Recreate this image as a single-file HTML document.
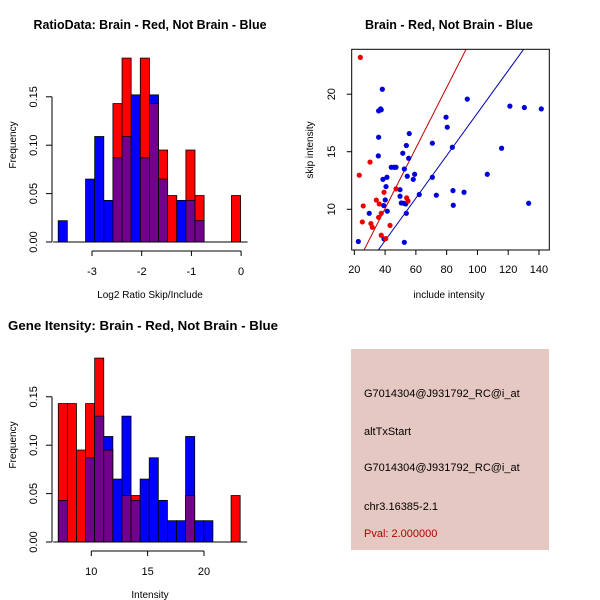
<!DOCTYPE html>
<html><head><meta charset="utf-8"><style>
html,body{margin:0;padding:0;background:#fff}
svg{display:block;font-family:"Liberation Sans",sans-serif}
</style></head><body>
<svg id="c" width="600" height="600" viewBox="0 0 600 600" xmlns="http://www.w3.org/2000/svg">
<text x="150" y="29" text-anchor="middle" font-size="12.5" font-weight="bold" textLength="233" lengthAdjust="spacingAndGlyphs">RatioData: Brain - Red, Not Brain - Blue</text>
<text x="449" y="29" text-anchor="middle" font-size="12.5" font-weight="bold" textLength="168" lengthAdjust="spacingAndGlyphs">Brain - Red, Not Brain - Blue</text>
<text x="8" y="330" font-size="12.5" font-weight="bold" textLength="270" lengthAdjust="spacingAndGlyphs">Gene Itensity: Brain - Red, Not Brain - Blue</text>
<g id="h1"></g>
<g id="h2"></g>
<g id="sc"></g>
<g>
<rect x="351" y="349" width="198" height="201" fill="#E6C8C2"/>
<text x="364" y="397" font-size="11">G7014304@J931792_RC@i_at</text>
<text x="364" y="435" font-size="11">altTxStart</text>
<text x="364" y="471" font-size="11">G7014304@J931792_RC@i_at</text>
<text x="364" y="510" font-size="11">chr3.16385-2.1</text>
<text x="364" y="537" font-size="11" fill="#B00000">Pval: 2.000000</text>
</g>
</svg>
<script>
// ---- Ratio histogram data ----
const ratioBreakStart = -3.68;
const ratioBinWidth = 0.1835;
const ratioRed  = [0,0,0,0,0,0,0.143,0.19,0,0.19,0.143,0.095,0.048,0,0.095,0.048,0,0,0,0.048];
const ratioBlue = [0.022,0,0,0.065,0.109,0.043,0.087,0.109,0.152,0.087,0.152,0.065,0,0.043,0.043,0.022,0,0,0,0];
const ratioXTicks = [-3,-2,-1,0];
// ---- Intensity histogram data ----
const intBreakStart = 7.07;
const intBinWidth = 0.807;
const intRed  = [0.143,0.143,0.095,0.143,0.19,0.095,0,0.048,0.048,0,0,0,0,0,0.048,0,0,0,0,0.048];
const intBlue = [0.043,0,0,0.087,0.13,0.109,0.065,0.13,0.043,0.065,0.087,0.043,0.022,0.022,0.109,0.022,0.022,0,0,0];
const intXTicks = [10,15,20];
const freqTicks = [0,0.05,0.10,0.15];
const freqTickLabels = ["0.00","0.05","0.10","0.15"];
// ---- Scatter data ----
const redX = [23.9,23.2,25.8,25.2,30.2,30.8,31.7,34.3,35.8,36.2,37.5,37.5,39.3,40.4,43.2,47.1,54,54.9];
const redY = [23.2,12.96,10.29,8.9,14.1,8.75,8.43,10.8,9.3,10.46,9.65,7.74,11.48,7.45,8.6,11.77,10.99,10.72];
const blueX = [22.6,29.7,35.8,35.6,35.8,37.5,37.1,38.2,38.6,39.1,40.1,40.6,41.2,41.4,39.3,44,45.8,47.1,49.7,49.7,50.5,51.5,52.1,52.5,53.4,52.5,53.8,54.4,53.8,55.3,55.7,58.3,59.2,62.2,70.7,70.7,73.3,79.6,80.4,83.7,84.1,84.3,91.3,93.4,106.4,115.7,121.1,130.5,133.3,141.5];
const blueY = [7.2,9.65,16.26,14.64,18.55,18.64,18.72,20.43,12.6,10.32,10.81,11.97,12.78,9.83,7.42,13.65,13.65,13.65,11.7,11.13,10.55,14.87,10.52,13.5,10.46,7.13,15.54,12.87,9.65,14.43,16.58,12.6,13.04,11.28,15.74,12.78,11.22,18,17.13,15.39,11.62,10.35,11.48,19.57,13.04,15.3,18.96,18.84,10.52,18.72];
const lineSlopes = [0.263,0.1847];
const lineIntercepts = [-0.46,-0.115];
const lineColors = ["#C00000","#0000B0"];
const scXTicks = [20,40,60,80,100,120,140];
const scYTicks = [10,15,20];

const NS="http://www.w3.org/2000/svg";
function mk(parent,tag,attrs){const e=document.createElementNS(NS,tag);for(const k in attrs)e.setAttribute(k,attrs[k]);parent.appendChild(e);return e;}

function hist(g,y0,xLo,pxPerUnit,x0px,start,w,red,blue,xticks,xlabel,xlabelY){
  const sy=v=>y0-v*968;
  const sx=v=>x0px+(v-xLo)*pxPerUnit;
  for(let i=0;i<red.length;i++){
    const a=sx(start+i*w), b=sx(start+(i+1)*w);
    const r=red[i], bl=blue[i], m=Math.min(r,bl), mx=Math.max(r,bl);
    if(mx<=0) continue;
    const topCol = r>=bl ? "#FF0000" : "#0000FF";
    let e=mk(g,"rect",{x:a,y:sy(mx),width:b-a,height:sy(0)-sy(mx),fill:topCol,stroke:"#000","stroke-width":0.8});
    
    
    if(m>0){
      e=mk(g,"rect",{x:a,y:sy(m),width:b-a,height:sy(0)-sy(m),fill:"#73008C",stroke:"#000","stroke-width":0.8});
      
      
    }
  }
  mk(g,"line",{x1:sx(start)-5,x2:sx(start+red.length*w)+7,y1:y0,y2:y0,stroke:"#000"});
  mk(g,"line",{x1:52,x2:52,y1:sy(0),y2:sy(0.15),stroke:"#000"});
  freqTicks.forEach((t,i)=>{
    mk(g,"line",{x1:46,x2:52,y1:sy(t),y2:sy(t),stroke:"#000"});
    const tx=mk(g,"text",{x:0,y:0,transform:`translate(37,${sy(t)}) rotate(-90)`,"text-anchor":"middle","font-size":11});
    tx.textContent=freqTickLabels[i];
    
    
  });
  const yl=mk(g,"text",{transform:`translate(16,${y0-97}) rotate(-90)`,"text-anchor":"middle","font-size":10});
  yl.textContent="Frequency";
  
  
  const ay=y0+9;
  mk(g,"line",{x1:sx(xticks[0]),x2:sx(xticks[xticks.length-1]),y1:ay,y2:ay,stroke:"#000"});
  xticks.forEach(t=>{
    mk(g,"line",{x1:sx(t),x2:sx(t),y1:ay,y2:ay+5,stroke:"#000"});
    const tx=mk(g,"text",{x:sx(t),y:ay+24,"text-anchor":"middle","font-size":11});
    tx.textContent=String(t);
    
    
  });
  const xl=mk(g,"text",{x:150,y:y0+xlabelY,"text-anchor":"middle","font-size":10});
  xl.textContent=xlabel;
  
  
}
hist(document.getElementById("h1"),242,-3,49.7,92,ratioBreakStart,ratioBinWidth,ratioRed,ratioBlue,ratioXTicks,"Log2 Ratio Skip/Include",56);
hist(document.getElementById("h2"),542,10,11.27,91.3,intBreakStart,intBinWidth,intRed,intBlue,intXTicks,"Intensity",56);

(function(){
  const g=document.getElementById("sc");
  const L=351.7,R=549.3,T=49.3,B=250;
  const xmin=18.3,xmax=146.7,ymin=6.46,ymax=23.9;
  const sx=v=>L+(v-xmin)/(xmax-xmin)*(R-L);
  const sy=v=>B-(v-ymin)/(ymax-ymin)*(B-T);
  const cp=mk(g,"clipPath",{id:"scclip"});mk(cp,"rect",{x:L,y:T,width:R-L,height:B-T});
  lineSlopes.forEach((s,i)=>{
    const b=lineIntercepts[i];
    const l=mk(g,"line",{x1:sx(xmin),y1:sy(b+s*xmin),x2:sx(xmax),y2:sy(b+s*xmax),stroke:lineColors[i],"stroke-width":1,"clip-path":"url(#scclip)"});
    
    
  });
  blueX.forEach((x,i)=>{
    const c=mk(g,"circle",{cx:sx(x),cy:sy(blueY[i]),r:2.6,fill:"#0000DD"});
    
    
  });
  redX.forEach((x,i)=>{
    const c=mk(g,"circle",{cx:sx(x),cy:sy(redY[i]),r:2.6,fill:"#EE0000"});
    
    
  });
  mk(g,"rect",{x:L,y:T,width:R-L,height:B-T,fill:"none",stroke:"#000"});
  scXTicks.forEach(t=>{
    mk(g,"line",{x1:sx(t),x2:sx(t),y1:B,y2:B+5,stroke:"#000"});
    const tx=mk(g,"text",{x:sx(t),y:B+23,"text-anchor":"middle","font-size":11});
    tx.textContent=String(t);
    
    
  });
  scYTicks.forEach(t=>{
    mk(g,"line",{x1:L-5,x2:L,y1:sy(t),y2:sy(t),stroke:"#000"});
    const tx=mk(g,"text",{transform:`translate(335,${sy(t)}) rotate(-90)`,"text-anchor":"middle","font-size":11});
    tx.textContent=String(t);
    
    
  });
  const xl=mk(g,"text",{x:449,y:298,"text-anchor":"middle","font-size":10});
  xl.textContent="include intensity";
  
  
  const yl=mk(g,"text",{transform:`translate(313,150) rotate(-90)`,"text-anchor":"middle","font-size":10});
  yl.textContent="skip intensity";
  
  
})();
</script>
</body></html>
